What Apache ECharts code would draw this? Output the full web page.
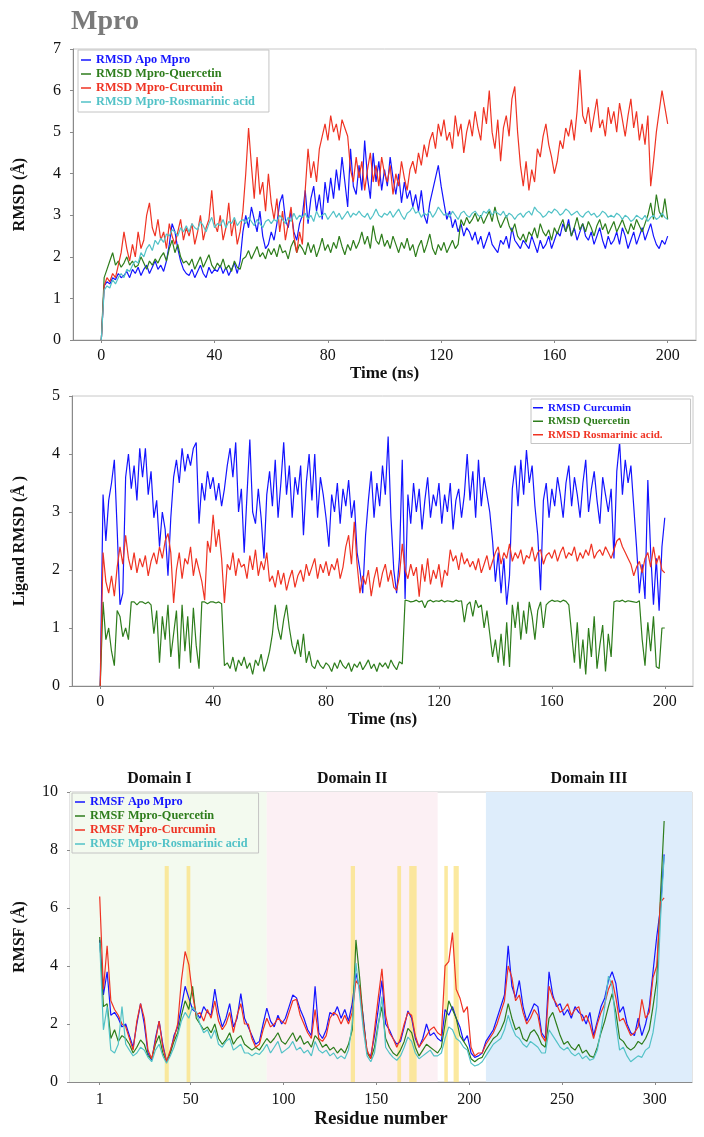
<!DOCTYPE html>
<html>
<head>
<meta charset="utf-8">
<script src="https://cdn.jsdelivr.net/npm/echarts@6/dist/echarts.min.js"></script>
<style>html,body{margin:0;padding:0;background:#fff;}#c{width:704px;height:1137px;}</style>
</head>
<body>
<div id="c"></div>
<script>
// ---------- tick labels ----------
const timeTicks = [0, 40, 80, 120, 160, 200];
const residueTicks = [1, 50, 100, 150, 200, 250, 300];

// ---------- panel 1: protein RMSD (1 ns sampling, t = 0..200) ----------
const apoRMSD = [0,
1.3,1.4,1.35,1.5,1.45,1.6,1.5,1.55,1.65,1.5,
1.7,1.6,1.75,1.55,1.7,1.8,1.6,1.75,1.9,1.7,
1.8,1.65,1.9,2.3,2.8,2.6,2.2,1.9,1.7,1.6,
1.55,1.7,1.5,1.65,1.8,1.6,1.5,1.75,1.6,1.7,
1.65,1.8,1.6,1.75,1.55,1.7,1.85,1.6,1.9,2.6,
3.0,2.7,3.2,2.9,2.6,3.1,2.5,2.2,2.3,2.6,
2.4,2.8,3.3,3.5,2.9,2.7,3.1,2.6,2.4,2.8,
3.0,3.6,2.8,3.4,3.7,3.1,3.5,2.9,3.8,3.3,
3.9,3.4,4.1,3.6,4.4,3.8,3.2,4.6,3.7,3.5,
4.2,3.6,4.8,3.9,3.4,4.5,3.8,4.3,3.6,4.1,
3.7,4.4,3.9,3.5,4.0,3.3,3.8,3.4,3.6,3.2,
3.5,3.1,3.6,3.0,2.8,3.3,3.6,3.9,4.2,3.7,
3.3,2.9,3.1,2.7,2.9,2.6,2.8,2.5,2.7,2.6,
2.4,2.6,2.3,2.5,2.2,2.4,2.6,2.3,2.2,2.1,
2.4,2.3,2.5,2.2,2.7,2.4,2.3,2.2,2.4,2.3,
2.2,2.5,2.3,2.1,2.4,2.2,2.3,2.5,2.2,2.4,
2.6,2.5,2.8,2.6,2.9,2.5,2.7,2.4,2.6,2.8,
2.5,2.4,2.6,2.3,2.5,2.7,2.4,2.2,2.5,2.3,
2.4,2.6,2.3,2.7,2.5,2.2,2.4,2.6,2.3,2.5,
2.7,2.4,2.6,2.8,2.5,2.3,2.2,2.4,2.3,2.5];
const quercRMSD = [0,
1.5,1.7,1.9,2.1,1.8,1.9,1.75,1.85,2.0,1.8,
1.9,1.75,1.8,2.0,1.85,1.7,1.9,1.8,1.95,1.85,
2.0,2.1,1.9,2.2,2.4,2.1,2.3,2.0,1.85,1.9,
1.8,1.95,1.7,1.85,2.0,1.75,1.9,2.05,1.8,1.7,
1.85,1.75,1.95,1.7,1.8,1.65,1.9,1.75,1.7,1.95,
2.0,2.15,1.95,2.1,2.25,2.0,2.1,1.95,2.2,2.05,
2.2,2.0,2.3,2.1,2.15,1.95,2.25,2.4,2.1,2.3,
2.2,2.05,2.35,2.1,2.3,2.0,2.2,2.45,2.15,2.3,
2.1,2.35,2.2,2.5,2.25,2.05,2.3,2.15,2.4,2.2,
2.35,2.6,2.3,2.5,2.2,2.75,2.4,2.3,2.55,2.25,
2.4,2.2,2.5,2.3,2.1,2.35,2.2,2.45,2.15,2.3,
2.0,2.25,2.4,2.1,2.3,2.55,2.2,2.05,2.3,2.15,
2.35,2.1,2.25,2.4,2.2,2.3,2.9,2.75,2.95,2.8,
2.9,3.05,2.85,3.0,2.8,2.95,3.1,2.85,3.2,2.9,
2.7,2.85,3.0,2.75,2.6,2.8,2.5,2.4,2.55,2.35,
2.6,2.5,2.7,2.45,2.8,2.6,2.5,2.65,2.4,2.7,
2.55,2.75,2.9,2.6,2.8,2.5,2.7,2.95,2.65,2.8,
2.6,2.85,2.7,2.5,2.75,2.9,2.65,2.8,2.55,2.7,
2.85,2.6,2.75,2.9,2.7,2.55,2.8,2.65,2.9,2.75,
2.6,2.8,3.0,3.3,2.9,3.5,3.1,2.95,3.4,2.9];
const curcRMSD = [0,
1.3,1.5,1.4,1.6,1.5,1.8,2.1,2.6,2.2,1.9,
2.3,2.0,2.6,2.2,2.4,3.0,3.3,2.7,2.5,2.9,
2.4,2.6,2.2,2.8,2.5,2.3,2.6,2.9,2.4,2.7,
2.5,2.8,2.3,2.6,3.0,2.4,2.7,2.9,3.6,2.8,
2.6,3.0,2.4,2.7,3.3,2.5,2.9,2.3,2.6,3.1,
4.0,5.1,4.2,3.4,4.4,3.5,3.8,3.1,4.0,3.3,
2.9,3.4,2.6,3.1,2.4,2.8,3.2,2.5,2.1,2.6,
2.3,3.6,4.6,3.9,4.3,3.8,4.6,4.9,5.2,4.8,
5.4,5.0,5.2,4.8,5.3,5.1,4.9,4.1,3.8,4.4,
3.9,4.3,3.6,4.1,4.5,3.8,4.2,3.7,4.4,4.0,
3.8,4.2,3.5,4.0,3.7,4.3,3.9,3.6,4.1,4.3,
4.0,4.5,4.2,4.7,4.4,4.8,5.0,4.6,5.2,4.9,
5.3,4.8,5.0,4.6,5.4,4.9,5.2,4.5,5.0,5.3,
4.9,5.5,5.1,4.8,5.6,5.2,6.0,5.0,4.6,5.3,
4.3,5.1,5.4,4.9,5.8,6.1,5.0,4.2,3.7,4.3,
3.6,4.1,3.8,4.6,4.4,4.9,5.2,4.7,4.4,4.0,
4.3,4.8,4.6,5.1,4.9,5.3,4.8,5.5,6.5,5.4,
5.2,5.6,5.0,5.4,5.8,5.1,5.3,4.9,5.6,5.2,
5.5,5.0,5.7,5.3,4.9,5.4,5.8,5.1,5.5,4.8,
5.2,4.7,5.4,3.7,4.3,5.0,5.5,6.0,5.6,5.2];
const rosmRMSD = [0,
1.2,1.3,1.25,1.45,1.35,1.5,1.6,1.5,1.7,1.65,
1.8,1.9,1.85,2.1,2.0,2.2,2.3,2.15,2.4,2.3,
2.45,2.35,2.55,2.5,2.65,2.6,2.5,2.7,2.6,2.75,
2.6,2.8,2.7,2.65,2.85,2.75,2.6,2.8,2.95,2.7,
2.8,2.75,2.9,2.7,2.85,2.8,2.95,2.75,2.85,2.9,
2.8,2.95,2.85,2.75,2.9,2.8,2.7,2.85,2.9,2.8,
2.9,2.85,3.0,2.9,2.8,2.95,2.85,3.05,2.9,3.0,
2.95,3.05,2.9,3.0,2.85,3.1,2.95,3.0,3.05,2.9,
3.0,3.1,2.95,3.05,2.9,3.0,3.1,2.95,3.05,3.0,
3.1,3.0,2.95,3.05,2.9,3.0,3.15,3.0,2.95,3.05,
3.0,3.1,2.95,3.05,3.15,3.0,2.9,3.05,3.1,3.2,
3.05,3.1,2.95,3.05,3.0,3.1,2.95,3.05,3.2,3.1,
3.0,3.05,2.95,3.1,3.0,2.9,3.05,3.1,3.0,2.95,
3.05,3.1,3.0,2.95,3.1,3.05,3.15,3.0,3.1,3.05,
3.0,3.1,2.95,3.05,3.0,2.9,3.0,3.05,2.95,3.05,
3.1,3.0,3.2,3.1,3.05,2.95,3.0,3.1,3.05,3.15,
3.1,3.0,3.05,3.15,3.1,3.0,3.05,3.1,3.0,2.95,
3.05,3.1,3.0,3.05,2.95,3.0,3.1,3.05,2.95,3.0,
2.95,3.05,3.0,2.9,3.0,2.95,2.85,2.9,3.0,2.95,
2.9,3.0,2.85,2.95,3.0,2.9,2.95,3.05,2.95,2.9];

// ---------- panel 2: ligand RMSD (1 ns sampling, t = 0..200) ----------
const ligCurc = [0,
3.3,2.5,3.2,3.5,3.9,2.7,1.4,1.6,3.6,4.0,
3.4,3.8,3.2,4.1,3.6,4.1,3.3,3.7,2.9,3.2,
2.4,3.0,2.7,1.9,2.9,3.6,3.9,3.5,4.1,3.7,
4.0,3.8,4.1,4.2,2.8,3.5,3.2,3.7,3.4,3.6,
3.2,3.5,3.1,3.4,3.8,4.1,3.6,4.2,3.0,3.4,
2.3,3.3,4.25,3.0,2.8,3.4,2.9,2.2,3.3,3.7,
3.1,3.9,2.9,3.5,4.2,3.3,3.8,2.9,3.6,3.3,
3.8,2.6,3.5,4.0,3.2,4.0,2.9,3.6,3.3,2.9,
2.4,3.3,3.0,3.5,2.8,3.4,3.1,3.55,2.9,3.2,
2.3,2.0,1.6,2.6,3.2,3.7,2.9,3.5,3.1,3.8,
3.3,4.3,2.9,2.0,1.6,2.2,3.9,1.5,3.3,2.8,
3.5,3.0,3.4,2.7,3.2,3.6,2.9,3.3,3.1,3.5,
2.8,3.3,3.0,3.5,2.7,3.2,3.4,2.9,3.3,4.0,
3.2,3.7,2.9,3.9,3.1,3.6,3.3,3.0,2.5,1.8,
2.3,1.6,2.2,1.4,1.9,3.4,3.8,3.1,3.9,3.3,
4.07,3.5,3.8,3.1,2.6,1.65,3.2,3.5,2.9,3.4,
3.1,3.6,3.3,2.9,3.5,3.8,3.1,3.6,3.3,2.9,
3.5,3.9,3.0,3.4,3.7,3.2,2.8,3.6,3.3,3.0,
3.4,2.2,3.7,4.2,3.3,3.9,3.5,3.8,3.1,2.4,
1.6,2.1,1.5,3.55,2.3,1.4,2.2,1.3,2.4,2.9];
const ligQuerc = [0,
1.45,0.8,1.0,0.6,0.35,1.3,1.2,0.85,1.0,0.8,
1.45,1.45,1.4,1.45,1.45,1.42,1.45,1.4,0.9,1.3,
0.4,1.2,0.8,1.4,0.5,0.9,1.3,0.3,1.4,0.6,
1.2,0.4,1.35,0.7,0.3,1.45,1.45,1.42,1.45,1.45,
1.43,1.45,1.42,0.35,0.4,0.3,0.5,0.25,0.45,0.35,
0.5,0.3,0.4,0.2,0.45,0.35,0.55,0.25,0.4,0.6,
0.9,1.4,1.0,0.8,1.15,1.4,1.0,0.7,0.55,0.8,
0.5,0.9,0.4,0.6,0.35,0.3,0.45,0.35,0.3,0.4,
0.35,0.25,0.4,0.3,0.45,0.35,0.3,0.4,0.25,0.38,
0.32,0.42,0.28,0.36,0.45,0.3,0.38,0.25,0.4,0.33,
0.4,0.3,0.45,0.35,0.28,0.42,0.38,1.48,1.47,1.45,
1.46,1.48,1.45,1.47,1.35,1.46,1.48,1.45,1.47,1.46,
1.48,1.45,1.47,1.46,1.45,1.48,1.46,1.47,1.1,1.4,
1.45,1.2,1.48,1.35,1.4,1.0,1.3,0.9,0.5,0.8,
0.4,0.9,0.35,1.1,0.33,1.4,1.0,1.45,0.8,1.3,
0.9,1.45,1.2,0.8,1.3,1.45,1.0,1.4,1.45,1.48,
1.46,1.47,1.45,1.48,1.46,1.4,0.9,0.4,1.1,0.3,
0.8,0.2,1.0,0.5,1.2,0.3,0.7,1.05,0.25,0.9,
0.5,1.45,1.47,1.46,1.48,1.45,1.47,1.46,1.45,1.44,
1.47,0.8,0.35,1.1,0.6,1.2,0.33,0.3,1.0,1.0];
const ligRosm = [0,
2.3,1.8,1.6,1.9,1.55,2.05,2.4,2.1,2.6,2.2,
2.0,2.3,1.95,2.2,2.05,2.25,1.9,2.15,2.3,2.1,
2.4,2.2,2.5,2.63,2.3,1.43,2.0,2.3,1.85,2.2,
2.1,2.4,1.9,2.2,2.0,1.8,1.48,2.5,2.3,2.95,
2.4,2.7,2.2,1.43,2.1,2.0,2.3,1.9,2.2,2.05,
2.1,1.85,2.25,2.0,2.35,1.9,2.15,2.0,2.3,1.8,
1.9,1.7,2.0,1.75,1.95,1.65,1.85,2.0,1.7,1.9,
2.0,1.8,2.1,1.9,2.05,2.2,1.85,2.1,1.95,2.15,
1.9,2.1,2.0,2.2,1.85,2.05,2.4,2.6,2.1,2.83,
2.1,1.6,1.9,1.75,2.0,1.55,1.85,2.05,1.7,1.95,
2.1,1.8,2.0,1.7,1.65,1.9,2.45,2.0,1.85,2.1,
1.9,2.05,1.54,2.1,1.8,2.2,1.75,2.0,1.85,2.1,
1.7,2.0,1.9,2.35,2.15,2.25,2.0,2.3,2.1,2.2,
2.05,2.15,2.0,2.2,1.95,2.1,2.25,2.0,2.15,2.3,
2.4,2.1,2.3,2.2,2.45,2.15,2.3,2.2,2.35,2.1,
2.25,2.2,2.4,2.15,2.3,2.35,2.1,2.25,2.3,2.2,
2.35,2.15,2.3,2.4,2.2,2.3,2.25,2.4,2.15,2.3,
2.2,2.35,2.25,2.45,2.2,2.3,2.35,2.25,2.4,2.3,
2.2,2.35,2.5,2.55,2.4,2.3,2.2,2.1,1.9,2.05,
2.15,1.95,2.2,2.3,2.05,2.4,2.1,2.25,2.0,1.95];

// ---------- panel 3: RMSF (residues 1,3,5,...,305) ----------
const apoRMSF = [4.9,3.0,3.8,2.3,2.4,2.2,1.9,2.0,1.6,1.2,
2.0,2.7,2.0,1.0,0.75,1.5,2.1,1.3,0.7,1.0,
1.6,1.9,2.6,3.3,2.9,2.5,2.4,2.2,2.6,2.4,
2.3,3.2,2.4,1.9,2.2,2.7,1.9,2.2,3.05,2.2,
1.9,1.6,1.3,1.4,2.0,2.55,2.1,1.9,2.3,2.0,
2.2,2.6,3.0,2.9,2.5,2.2,1.8,1.6,3.3,1.7,
1.5,1.8,2.4,2.3,2.6,2.2,2.5,2.1,2.7,3.75,
3.2,2.2,1.0,0.9,1.6,2.5,3.5,2.0,1.8,1.5,
1.3,1.4,1.9,2.45,2.2,1.5,1.2,1.5,2.0,1.6,
1.7,1.5,1.4,2.5,2.3,2.6,2.2,1.9,1.4,1.6,
1.0,0.85,0.9,1.0,1.4,1.6,1.8,2.2,2.6,3.0,
4.7,3.3,2.9,3.5,2.6,2.1,2.4,2.7,2.6,1.7,
1.5,3.8,3.0,2.6,2.7,2.3,2.5,2.2,2.6,2.4,
2.3,2.0,2.4,1.6,2.1,2.6,2.9,3.5,3.8,3.4,
2.4,2.6,2.0,1.7,1.6,2.2,1.6,2.0,2.6,3.8,
5.0,6.0,7.85];
const quercRMSF = [5.0,2.6,2.7,1.5,1.8,1.4,1.6,1.5,1.3,1.0,
1.2,1.45,1.3,0.9,0.8,1.3,1.6,1.0,0.7,1.0,
1.4,1.7,2.3,2.8,2.5,3.3,2.2,2.0,1.8,1.9,
1.7,2.0,1.5,1.3,1.45,1.7,1.3,1.5,1.6,1.3,
1.2,1.1,1.2,1.1,1.3,1.5,1.35,1.5,1.7,1.4,
1.3,1.5,1.7,1.4,1.6,1.3,1.4,1.2,1.6,1.45,
1.2,1.3,1.1,1.2,1.0,1.15,1.0,1.3,1.8,4.9,
3.6,2.1,1.0,0.8,1.2,2.0,2.6,1.5,1.2,1.0,
0.9,1.1,1.4,1.85,1.7,1.2,0.9,1.1,1.3,1.2,
1.1,1.0,1.2,2.0,2.8,2.5,2.2,1.6,1.4,1.2,
0.8,0.7,0.8,0.85,1.1,1.3,1.5,1.6,1.8,2.1,
2.7,2.2,1.8,1.9,1.5,1.4,1.7,1.8,1.6,1.3,
1.2,2.2,2.4,2.0,1.6,1.3,1.4,1.2,1.1,1.3,
1.0,1.1,0.9,0.85,1.2,1.7,2.1,2.6,3.05,2.4,
1.5,1.4,1.2,1.1,1.2,1.4,1.3,1.5,1.8,2.6,
3.5,6.4,9.0];
const curcRMSF = [6.4,3.2,4.7,2.8,2.5,2.3,2.0,1.9,1.5,1.1,
2.1,2.7,2.2,1.1,0.8,1.4,2.1,1.2,0.7,1.1,
1.5,2.0,3.5,4.5,4.05,3.0,2.3,2.4,2.1,2.5,
2.2,2.8,2.1,1.8,2.0,2.4,1.7,2.3,2.7,2.0,
2.0,1.5,1.2,1.3,1.8,2.2,1.9,2.0,2.2,2.1,
2.0,2.4,2.8,2.85,2.3,2.0,1.7,1.5,2.5,1.5,
1.4,1.6,2.2,2.4,2.3,2.0,2.3,2.0,2.4,3.5,
3.3,2.0,1.1,0.8,1.8,2.9,3.9,2.3,1.7,1.5,
1.2,1.5,2.0,2.4,2.3,1.6,1.2,1.4,1.6,1.8,
1.9,1.7,1.6,4.0,4.15,5.15,3.2,2.9,2.4,2.6,
1.2,0.9,1.0,1.0,1.3,1.5,1.7,2.0,2.4,2.8,
4.0,3.6,2.8,3.0,2.4,2.0,2.2,2.5,2.3,1.6,
1.4,3.3,2.9,2.7,2.4,2.5,2.7,2.3,2.5,2.6,
2.1,2.3,2.0,1.5,2.0,2.4,2.7,3.2,3.5,2.9,
2.1,2.2,1.9,1.6,1.7,1.9,2.85,2.2,2.4,3.6,
4.0,6.2,6.35];
const rosmRMSF = [4.8,1.8,2.6,1.1,1.0,1.3,2.6,1.3,1.1,0.9,
1.0,1.2,1.1,0.85,0.7,1.1,1.3,0.9,0.65,0.9,
1.2,1.6,2.1,2.4,2.2,2.6,2.4,2.0,1.7,1.8,
1.5,1.8,1.3,1.2,1.4,1.5,1.1,1.2,1.3,1.0,
1.0,0.9,1.0,0.95,1.1,1.3,1.0,1.2,1.4,1.0,
1.1,1.2,1.4,1.1,1.2,1.0,1.1,0.9,1.4,1.1,
1.0,1.1,0.9,1.0,0.8,0.9,0.8,1.1,2.0,4.1,
3.0,1.8,0.9,0.7,1.0,1.9,2.95,1.2,1.0,0.85,
0.75,0.9,1.2,1.55,1.4,1.0,0.8,0.9,1.0,1.1,
0.9,0.9,1.0,1.5,1.9,1.8,1.5,1.4,1.2,1.1,
0.65,0.55,0.6,0.7,0.9,1.1,1.3,1.4,1.5,1.8,
2.3,1.9,1.6,1.5,1.3,1.2,1.4,1.3,1.2,1.0,
1.0,1.8,1.6,1.4,1.2,1.1,1.2,1.0,0.9,1.0,
0.8,0.9,0.75,0.8,1.1,1.8,2.6,3.65,3.3,2.0,
1.1,1.2,0.9,0.7,0.8,0.9,0.85,1.1,1.2,1.7,
2.6,5.6,7.8];

// ---------- annotations (residue ranges) ----------
const domainNames = ['Domain I', 'Domain II', 'Domain III'];
const domainRanges = [[-15, 91], [91, 183], [209, 320]];
const siteRanges = [[36, 38.2], [47.8, 49.8], [136.2, 138.5], [161.3, 163.3], [167.7, 171.7], [186.6, 188.5], [191.6, 194.4]];
const siteTop = 7.45;

// ---------- names & colours ----------
const p1Names = ['RMSD Apo Mpro', 'RMSD Mpro-Quercetin', 'RMSD Mpro-Curcumin', 'RMSD Mpro-Rosmarinic acid'];
const p2Names = ['RMSD Curcumin', 'RMSD Quercetin', 'RMSD Rosmarinic acid.'];
const p3Names = ['RMSF Apo Mpro', 'RMSF Mpro-Quercetin', 'RMSF Mpro-Curcumin', 'RMSF Mpro-Rosmarinic acid'];
const BLUE = '#1414ff', GREEN = '#2e7d1c', RED = '#ef3323', CYAN = '#52c2c7';
const p1Colors = [BLUE, GREEN, RED, CYAN];
const p2Colors = [BLUE, GREEN, RED];
const p3Colors = [BLUE, GREEN, RED, CYAN];

// sampling grids
const time = []; for (let t = 0; t <= 200; t++) time.push(t);
const residues = []; for (let r = 1; r <= 305; r += 2) residues.push(r);
const pairs = (xs, ys) => ys.map((v, i) => [xs[i], v]);

const FONT = '"Liberation Serif", "DejaVu Serif", serif';
const AXC = '#8a8a8a';

function xAx(grid, min, max, ticks, name, nameGap, nameSize, labelMargin) {
  return {
    gridIndex: grid, type: 'value', min: min, max: max,
    axisLine: { show: true, onZero: false, lineStyle: { color: AXC, width: 1 } },
    axisTick: { show: true, customValues: ticks, length: 3, lineStyle: { color: AXC } },
    axisLabel: { customValues: ticks, fontSize: 16, color: '#111', fontFamily: FONT, margin: labelMargin },
    splitLine: { show: false },
    name: name, nameLocation: 'middle', nameGap: nameGap,
    nameTextStyle: { fontSize: nameSize, fontWeight: 'bold', color: '#111', fontFamily: FONT }
  };
}
function yAx(grid, max, interval, name, nameGap) {
  return {
    gridIndex: grid, type: 'value', min: 0, max: max, interval: interval,
    axisLine: { show: true, onZero: false, lineStyle: { color: AXC, width: 1 } },
    axisTick: { show: true, length: 3, lineStyle: { color: AXC } },
    axisLabel: { fontSize: 16, color: '#111', fontFamily: FONT, margin: 12 },
    splitLine: { show: false },
    name: name, nameLocation: 'middle', nameGap: nameGap, nameRotate: 90,
    nameTextStyle: { fontSize: 16, fontWeight: 'bold', color: '#111', fontFamily: FONT }
  };
}
function lineSeries(name, color, data, xi) {
  return {
    name: name, type: 'line', xAxisIndex: xi, yAxisIndex: xi, data: data,
    showSymbol: false, symbol: 'none', z: 3,
    lineStyle: { color: color, width: 1.2 }, itemStyle: { color: color },
    emphasis: { disabled: true }, animation: false
  };
}
function legendCfg(names, colors, left, top, padding, fontSize, lineH, bg) {
  return {
    data: names.map((n, i) => ({ name: n, textStyle: { color: colors[i] } })),
    orient: 'vertical', left: left, top: top, padding: padding,
    itemGap: 0, itemWidth: 10, itemHeight: 1.5, icon: 'rect',
    backgroundColor: bg, borderColor: '#c4c4c4', borderWidth: 1, borderRadius: 0,
    selectedMode: false,
    textStyle: { fontFamily: FONT, fontWeight: 'bold', fontSize: fontSize, lineHeight: lineH, padding: 0 }
  };
}

const domainColors = ['#f3faef', '#fcf0f4', '#deedfb'];

const series = [];
// domain backgrounds (behind lines)
series.push({
  name: 'domains', type: 'line', xAxisIndex: 2, yAxisIndex: 2, data: [], z: 1, clip: false, silent: true,
  markArea: {
    silent: true,
    data: domainRanges.map((r, i) => [
      { xAxis: r[0], itemStyle: { color: domainColors[i] },
        label: { show: true, position: 'top', distance: 5, formatter: domainNames[i], offset: i === 0 ? [-9, 0] : [0, 0],
                 color: '#111', fontSize: 16, fontWeight: 'bold', fontFamily: FONT } },
      { xAxis: r[1] }
    ])
  }
});
p1Names.forEach((n, i) => series.push(lineSeries(n, p1Colors[i], pairs(time, [apoRMSD, quercRMSD, curcRMSD, rosmRMSD][i]), 0)));
p2Names.forEach((n, i) => series.push(lineSeries(n, p2Colors[i], pairs(time, [ligCurc, ligQuerc, ligRosm][i]), 1)));
p3Names.forEach((n, i) => series.push(lineSeries(n, p3Colors[i], pairs(residues, [apoRMSF, quercRMSF, curcRMSF, rosmRMSF][i]), 2)));
// binding-site bands (semi-transparent, over lines)
series.push({
  name: 'sites', type: 'line', xAxisIndex: 2, yAxisIndex: 2, data: [], z: 6, silent: true,
  markArea: {
    silent: true,
    itemStyle: { color: 'rgba(250,228,135,0.8)' },
    data: siteRanges.map(r => [{ xAxis: r[0], yAxis: 0 }, { xAxis: r[1], yAxis: siteTop }])
  }
});

const option = {
  animation: false,
  backgroundColor: '#fff',
  title: { text: 'Mpro', left: 71, top: 8, padding: 0,
           textStyle: { fontSize: 28, fontWeight: 'bold', color: '#7a7a7a', fontFamily: FONT } },
  grid: [
    { left: 73, top: 49, width: 623, height: 291, show: true, borderColor: '#c8c8c8', borderWidth: 1, backgroundColor: 'transparent', containLabel: false, outerBoundsMode: 'none' },
    { left: 72, top: 396, width: 621, height: 290, show: true, borderColor: '#c8c8c8', borderWidth: 1, backgroundColor: 'transparent', containLabel: false, outerBoundsMode: 'none' },
    { left: 70, top: 792, width: 622, height: 290, show: true, borderColor: '#c8c8c8', borderWidth: 1, backgroundColor: 'transparent', containLabel: false, outerBoundsMode: 'none' }
  ],
  xAxis: [
    xAx(0, -10, 210, timeTicks, 'Time (ns)', 22, 17, 8),
    xAx(1, -10, 210, timeTicks, 'Time (ns)', 22, 17, 8),
    xAx(2, -15, 320, residueTicks, 'Residue number', 28, 19, 10)
  ],
  yAxis: [
    yAx(0, 7, 1, 'RMSD (Å)', 45),
    yAx(1, 5, 1, 'Ligand RMSD (Å )', 44),
    yAx(2, 10, 2, 'RMSF (Å)', 42)
  ],
  legend: [
    legendCfg(p1Names, p1Colors, 78, 50, [3, 14, 3, 3], 12.3, 14, '#ffffff'),
    legendCfg(p2Names, p2Colors, 531, 399, [2, 28, 2, 2], 11, 13.5, '#ffffff'),
    legendCfg(p3Names, p3Colors, 72, 793, [2, 11, 2, 3], 12.3, 14, 'transparent')
  ],
  series: series
};

const chart = echarts.init(document.getElementById('c'), null, { renderer: 'canvas', width: 704, height: 1137 });
chart.setOption(option);
</script>
</body>
</html>
